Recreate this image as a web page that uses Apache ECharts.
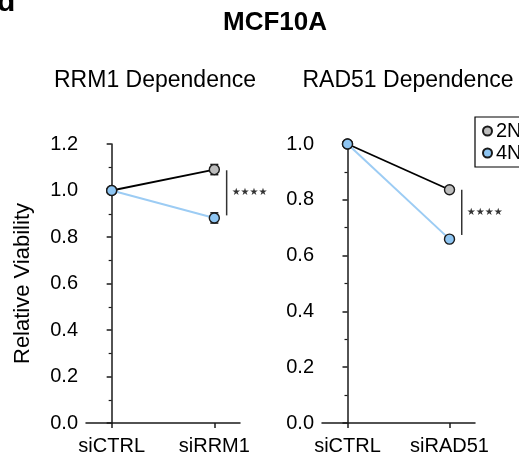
<!DOCTYPE html>
<html>
<head>
<meta charset="utf-8">
<script src="https://cdn.jsdelivr.net/npm/echarts@6/dist/echarts.min.js"></script>
<style>html,body{margin:0;padding:0;background:#fff}#c{width:519px;height:461px}</style>
</head>
<body>
<div id="c"></div>
<script>
// ---- data ----
const catsRRM1 = ['siCTRL', 'siRRM1'];
const catsRAD51 = ['siCTRL', 'siRAD51'];
const rrm1_2N = [1.0, 1.09];
const rrm1_2N_err = [0.0, 0.022];
const rrm1_4N = [1.0, 0.882];
const rrm1_4N_err = [0.0, 0.022];
const rad51_2N = [1.0, 0.836];
const rad51_2N_err = [0.0, 0.008];
const rad51_4N = [1.0, 0.659];
const rad51_4N_err = [0.0, 0.008];
const yTicksRRM1 = [0.0, 0.2, 0.4, 0.6, 0.8, 1.0, 1.2];
const yTicksRAD51 = [0.0, 0.2, 0.4, 0.6, 0.8, 1.0];
const sigRRM1 = { x: 1.12, y1: 1.087, y2: 0.893, label: '★★★★' };
const sigRAD51 = { x: 1.12, y1: 0.836, y2: 0.674, label: '★★★★' };
const seriesNames = ['2N', '4N'];

const FONT = '"Liberation Sans", Arial, Helvetica, sans-serif';
const AX = '#1a1a1a';
const C2N = { fill: '#bdbdbd', line: '#000000' };
const C4N = { fill: '#8ec5f2', line: '#9cccf4' };

function pts(vals) { return vals.map((v, i) => [i, v]); }
function errs(vals, e) { return vals.map((v, i) => [i, v - e[i], v + e[i]]); }

function xAxis(gi, cats) {
  return {
    type: 'value', gridIndex: gi, min: -0.25, max: 1.25,
    axisLine: { show: true, lineStyle: { color: AX, width: 1.5 } },
    axisTick: { show: true, customValues: [0, 1], length: 5, lineStyle: { color: AX, width: 1.5 } },
    axisLabel: { show: true, customValues: [0, 1], formatter: v => cats[Math.round(v)], color: '#000', fontSize: 20, fontFamily: FONT, margin: 13 },
    splitLine: { show: false }
  };
}
function yAxis(gi, ticks, name) {
  return {
    type: 'value', gridIndex: gi, min: ticks[0], max: ticks[ticks.length - 1], interval: 0.2,
    name: name, nameLocation: 'middle', nameGap: 52,
    nameTextStyle: { color: '#000', fontSize: 22, fontFamily: FONT },
    axisLine: { show: true, lineStyle: { color: AX, width: 1.5 } },
    axisTick: { show: true, length: 5, lineStyle: { color: AX, width: 1.5 } },
    minorTick: { show: true, splitNumber: 2, length: 3, lineStyle: { color: AX, width: 1.2 } },
    axisLabel: { color: '#000', fontSize: 20, fontFamily: FONT, margin: 8, formatter: v => v.toFixed(1) },
    splitLine: { show: false }
  };
}
function lineSeries(name, gi, vals, col) {
  return {
    type: 'line', name: name, xAxisIndex: gi, yAxisIndex: gi, data: pts(vals),
    symbol: 'circle', symbolSize: 10, z: 5,
    lineStyle: { color: col.line, width: name === '2N' ? 1.8 : 2 },
    itemStyle: { color: col.fill, borderColor: '#1a1a1a', borderWidth: 1.4 },
    emphasis: { disabled: true }, animation: false
  };
}
function errSeries(gi, vals, e) {
  return {
    type: 'custom', xAxisIndex: gi, yAxisIndex: gi, data: errs(vals, e), z: 3,
    renderItem: function (params, api) {
      const lo = api.coord([api.value(0), api.value(1)]);
      const hi = api.coord([api.value(0), api.value(2)]);
      const w = 4;
      const st = { stroke: '#1a1a1a', lineWidth: 1.5 };
      return { type: 'group', children: [
        { type: 'line', shape: { x1: lo[0], y1: lo[1], x2: hi[0], y2: hi[1] }, style: st },
        { type: 'line', shape: { x1: lo[0] - w, y1: lo[1], x2: lo[0] + w, y2: lo[1] }, style: st },
        { type: 'line', shape: { x1: hi[0] - w, y1: hi[1], x2: hi[0] + w, y2: hi[1] }, style: st }
      ]};
    }, animation: false, silent: true
  };
}
function sigSeries(gi, s) {
  return {
    type: 'custom', xAxisIndex: gi, yAxisIndex: gi, data: [[s.x, s.y1, s.y2]], z: 4,
    renderItem: function (params, api) {
      const a = api.coord([api.value(0), api.value(1)]);
      const b = api.coord([api.value(0), api.value(2)]);
      return { type: 'group', children: [
        { type: 'line', shape: { x1: a[0], y1: a[1], x2: b[0], y2: b[1] }, style: { stroke: '#333', lineWidth: 1.5 } },
        { type: 'text', x: a[0] + 5, y: (a[1] + b[1]) / 2, style: { text: s.label, fill: '#333', font: '10px "DejaVu Sans"', align: 'left', verticalAlign: 'middle' } }
      ]};
    }, animation: false, silent: true
  };
}

const chart = echarts.init(document.getElementById('c'), null, { renderer: 'canvas' });
chart.setOption({
  animation: false,
  backgroundColor: '#fff',
  grid: [
    { left: 86, top: 144, width: 154, height: 279 },
    { left: 322, top: 144, width: 153, height: 279 }
  ],
  xAxis: [xAxis(0, catsRRM1), xAxis(1, catsRAD51)],
  yAxis: [yAxis(0, yTicksRRM1, 'Relative Viability'), yAxis(1, yTicksRAD51, '')],
  legend: {
    data: seriesNames, orient: 'vertical', left: 475, top: 117,
    icon: 'circle', itemWidth: 9, itemHeight: 9, itemGap: 2,
    padding: [4, 8, 4, 7], borderColor: '#000', borderWidth: 1.2,
    textStyle: { fontSize: 20, fontFamily: FONT, color: '#000', padding: [0, 0, 0, -1] },
    selectedMode: false
  },
  graphic: [
    { type: 'text', x: 275, y: 23, style: { text: 'MCF10A', font: 'bold 26px ' + FONT, fill: '#000', align: 'center', verticalAlign: 'middle' } },
    { type: 'text', x: 155, y: 81, style: { text: 'RRM1 Dependence', font: '23px ' + FONT, fill: '#000', align: 'center', verticalAlign: 'middle' } },
    { type: 'text', x: 408, y: 81, style: { text: 'RAD51 Dependence', font: '23px ' + FONT, fill: '#000', align: 'center', verticalAlign: 'middle' } },
    { type: 'text', x: -3, y: -12, style: { text: 'd', font: 'bold 30px ' + FONT, fill: '#000', align: 'left', verticalAlign: 'top' } }
  ],
  series: [
    errSeries(0, rrm1_2N, rrm1_2N_err),
    errSeries(0, rrm1_4N, rrm1_4N_err),
    lineSeries('2N', 0, rrm1_2N, C2N),
    lineSeries('4N', 0, rrm1_4N, C4N),
    sigSeries(0, sigRRM1),
    errSeries(1, rad51_2N, rad51_2N_err),
    errSeries(1, rad51_4N, rad51_4N_err),
    lineSeries('2N', 1, rad51_2N, C2N),
    lineSeries('4N', 1, rad51_4N, C4N),
    sigSeries(1, sigRAD51)
  ]
});
</script>
</body>
</html>
